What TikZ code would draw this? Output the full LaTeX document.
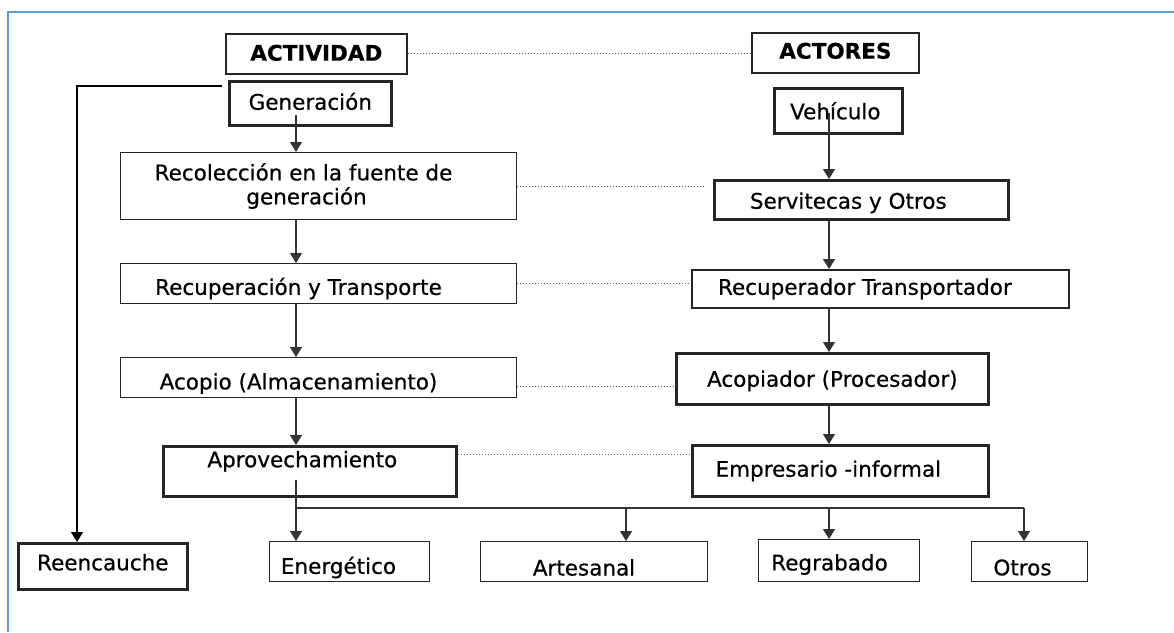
\documentclass[tikz,border=0pt]{standalone}
\usepackage{fontspec}
\setmainfont{DejaVu Sans}[FakeBold=0.5]
\usetikzlibrary{arrows.meta}
\newcommand{\txs}[3]{\raisebox{#2}[\height][\depth]{\hspace*{#1}#3}}
\begin{document}
\begin{tikzpicture}[x=1pt,y=-1pt,
  box/.style={draw=black!85, anchor=north west, inner sep=0pt, font=\fontsize{21.5}{25}\selectfont},
  bthin/.style={line width=1pt},
  bmid/.style={line width=1.7pt},
  bthick/.style={line width=2.6pt},
  arr/.style={draw=black!80, line width=1.1pt, -{Triangle[width=12pt,length=10pt]}},
  conn/.style={draw=black!80, line width=1.1pt},
  dotline/.style={draw=black!60, line width=1pt, dotted},
  frameline/.style={draw={rgb,255:red,91;green,155;blue,213}, line width=2pt}
]
\useasboundingbox (0,0) rectangle (1174,632);
\draw[frameline] (8,632) -- (8,12) -- (1174,12);

% header
\node[box,bmid,minimum width=181pt,minimum height=40pt,font=\fontsize{21.5}{25}\selectfont\bfseries] (act) at (225,33) {\txs{0pt}{1pt}{ACTIVIDAD}};
\node[box,bmid,minimum width=167pt,minimum height=40pt,font=\fontsize{21.5}{25}\selectfont\bfseries] (actr) at (751,32) {\txs{0pt}{2pt}{ACTORES}};

% left column
\node[box,bthick,minimum width=162pt,minimum height=44pt] (gen) at (228,80) {\txs{0pt}{2pt}{Generación}};
\node[box,bthin,minimum width=396pt,minimum height=67pt,align=center] (rec) at (120,152) {\hspace*{-30pt}Recolección en la fuente de\\[-1pt]\hspace*{-24pt}generación};
\node[box,bthin,minimum width=396pt,minimum height=40pt] (rt) at (120,263) {\txs{-40pt}{-5pt}{Recuperación y Transporte}};
\node[box,bthin,minimum width=396pt,minimum height=40pt] (ac) at (120,357) {\txs{-40pt}{-6pt}{Acopio (Almacenamiento)}};
\node[box,bthick,minimum width=293pt,minimum height=50pt] (apr) at (162,445) {\txs{-15pt}{10pt}{Aprovechamiento}};

% right column
\node[box,bthick,minimum width=128pt,minimum height=45pt] (veh) at (773,87) {\txs{-6pt}{0pt}{Vehículo}};
\node[box,bthick,minimum width=294pt,minimum height=39pt] (serv) at (713,179) {\txs{-26pt}{-3pt}{Servitecas y Otros}};
\node[box,bmid,minimum width=377pt,minimum height=38pt] (rtr) at (691,269) {\txs{-31pt}{0pt}{Recuperador Transportador}};
\node[box,bthick,minimum width=312pt,minimum height=51pt] (acp) at (675,352) {\txs{0pt}{-2pt}{Acopiador (Procesador)}};
\node[box,bthick,minimum width=296pt,minimum height=51pt] (emp) at (691,444) {\txs{-24pt}{0pt}{Empresario -informal}};

% bottom row
\node[box,bthick,minimum width=169pt,minimum height=46pt] (re) at (17,542) {\txs{0pt}{4pt}{Reencauche}};
\node[box,bthin,minimum width=160pt,minimum height=40pt] (en) at (269,541) {\txs{-22pt}{-6pt}{Energético}};
\node[box,bthin,minimum width=227pt,minimum height=40pt] (ar) at (480,541) {\txs{-20pt}{-6pt}{Artesanal}};
\node[box,bthin,minimum width=161pt,minimum height=42pt] (rg) at (758,539) {\txs{-19pt}{-4pt}{Regrabado}};
\node[box,bthin,minimum width=116pt,minimum height=40pt] (ot) at (971,541) {\txs{-14pt}{-6pt}{Otros}};

% helper coordinates
\coordinate (ax) at (296,0);
\coordinate (bx) at (829,0);
\coordinate (lt) at (77,86);
\coordinate (br) at (296,508);
\coordinate (d2) at (626,508);
\coordinate (d3) at (829,508);
\coordinate (d4) at (1024,508);

% dotted links
\draw[dotline] (act.east) -- (act.east -| actr.west);
\draw[dotline] (rec.east) -- ([xshift=-8pt]rec.east -| serv.west);
\draw[dotline] (rt.east) -- (rt.east -| rtr.west);
\draw[dotline] ([yshift=-9pt]ac.east) -- ([yshift=-9pt]ac.east -| acp.west);
\draw[dotline] ([yshift=17pt]apr.east) -- ([yshift=17pt]apr.east -| emp.west);

% left column arrows
\draw[arr] ([yshift=12pt]gen.south -| ax) -- (rec.north -| ax);
\draw[arr] (rec.south -| ax) -- (rt.north -| ax);
\draw[arr] (rt.south -| ax) -- (ac.north -| ax);
\draw[arr] (ac.south -| ax) -- (apr.north -| ax);

% right column arrows
\draw[arr] ([yshift=22pt]veh.south -| bx) -- (serv.north -| bx);
\draw[arr] (serv.south -| bx) -- (rtr.north -| bx);
\draw[arr] (rtr.south -| bx) -- (acp.north -| bx);
\draw[arr] (acp.south -| bx) -- (emp.north -| bx);

% reencauche
\draw[arr, line width=1.4pt, draw=black] ([xshift=-6pt]gen.west |- lt) -- (lt) -- (lt |- re.north);

% branches
\draw[arr] ([yshift=18pt]apr.south -| ax) -- (en.north -| ax);
\draw[conn] (br) -- (d4);
\draw[arr] (d2) -- (d2 |- ar.north);
\draw[arr] (d3) -- (d3 |- rg.north);
\draw[arr] (d4) -- (d4 |- ot.north);
\end{tikzpicture}
\end{document}
